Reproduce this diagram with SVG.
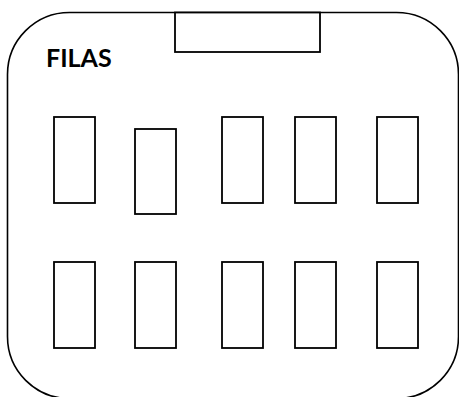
<svg xmlns="http://www.w3.org/2000/svg" width="459" height="397" viewBox="0 0 459 397">
<style>
.o{fill:none;stroke:#000;stroke-width:1.6}
.s{fill:#fff;stroke:#000;stroke-width:1.8}
.t{font-family:Lato,"Liberation Sans",sans-serif;font-weight:bold;font-size:25px;fill:#000}
</style>
<rect width="459" height="397" fill="#fff"/>
<g id="room"><rect class="o" x="7.5" y="12.5" width="451" height="386" rx="62" ry="62"/></g>
<g id="board"><rect class="s" x="175" y="12.5" width="145" height="39.5"/></g>
<g id="title"><text class="t" x="46" y="67">FILAS</text></g>
<g id="row1">
<rect id="d1" class="s" x="54" y="117" width="41" height="86"/>
<rect id="d2" class="s" x="135" y="129" width="41" height="85"/>
<rect id="d3" class="s" x="222" y="117" width="41" height="86"/>
<rect id="d4" class="s" x="295" y="117" width="41" height="86"/>
<rect id="d5" class="s" x="377" y="117" width="41" height="86"/>
</g>
<g id="row2">
<rect id="d6" class="s" x="54" y="262" width="41" height="86"/>
<rect id="d7" class="s" x="135" y="262" width="41" height="86"/>
<rect id="d8" class="s" x="222" y="262" width="41" height="86"/>
<rect id="d9" class="s" x="295" y="262" width="41" height="86"/>
<rect id="d10" class="s" x="377" y="262" width="41" height="86"/>
</g>
<g id="connectors"></g>
</svg>
